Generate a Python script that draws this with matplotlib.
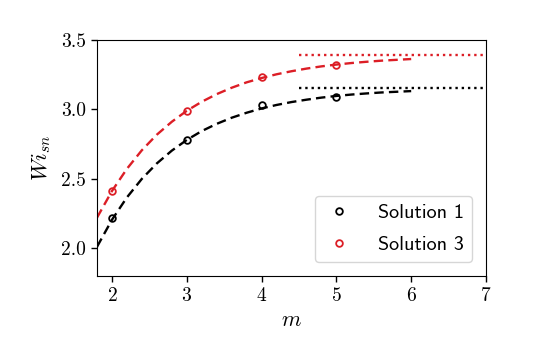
import numpy as np
import matplotlib
matplotlib.use("Agg")
import matplotlib.pyplot as plt

plt.rcParams['font.family'] = 'cmr10'
plt.rcParams['mathtext.fontset'] = 'cm'
plt.rcParams['axes.formatter.use_mathtext'] = True

m_fit = [1.8, 2.0, 2.2, 2.4, 2.6, 2.8, 3.0, 3.2, 3.4, 3.6, 3.8,
         4.0, 4.2, 4.4, 4.6, 4.8, 5.0, 5.2, 5.4, 5.6, 5.8, 6.0]
fit1 = [2.010, 2.205, 2.366, 2.500, 2.611, 2.703, 2.780, 2.844, 2.896, 2.940, 2.976,
        3.007, 3.032, 3.053, 3.070, 3.085, 3.097, 3.107, 3.115, 3.122, 3.127, 3.132]
fit3 = [2.220, 2.412, 2.572, 2.706, 2.818, 2.911, 2.990, 3.055, 3.110, 3.156, 3.195,
        3.226, 3.253, 3.275, 3.294, 3.310, 3.323, 3.334, 3.343, 3.351, 3.357, 3.363]

# computed solutions
m_pts = [2, 3, 4, 5]
sol1 = [2.22, 2.78, 3.03, 3.09]
sol3 = [2.41, 2.99, 3.23, 3.32]

# asymptotes
m_asym = [4.5, 7.0]
asym1 = 3.155
asym3 = 3.39

red = '#dc1e26'

fig = plt.figure(figsize=(5.4, 3.37), dpi=100)
ax = fig.add_axes([0.1796, 0.181, 0.7204, 0.7003])

ax.plot(m_fit, fit1, '--', color='k', lw=1.7, dashes=(4, 2.2))
ax.plot(m_fit, fit3, '--', color=red, lw=1.7, dashes=(4, 2.2))
ax.plot(m_asym, [asym1, asym1], ':', color='k', lw=1.7)
ax.plot(m_asym, [asym3, asym3], ':', color=red, lw=1.7)
ax.plot(m_pts, sol1, 'o', mfc='none', mec='k', ms=4.8, mew=1.3, label='Solution 1')
ax.plot(m_pts, sol3, 'o', mfc='none', mec=red, ms=4.8, mew=1.3, label='Solution 3')

ax.set_xlim(1.8, 7)
ax.set_ylim(1.8, 3.5)
ax.set_xticks([2, 3, 4, 5, 6, 7])
ax.set_yticks([2.0, 2.5, 3.0, 3.5])
ax.set_yticklabels(['2.0', '2.5', '3.0', '3.5'])
ax.tick_params(labelsize=14, length=4.5, width=1)
ax.set_xlabel('$m$', fontsize=16, labelpad=4)
ax.set_ylabel('$Wi_{sn}$', fontsize=16, labelpad=6)

leg = ax.legend(loc='lower right', prop={'family': 'cmss10', 'size': 14.5},
                handlelength=1.5, borderpad=0.4, labelspacing=0.7,
                handletextpad=1.2, borderaxespad=0.7, fancybox=True)
leg.get_frame().set_edgecolor('#cccccc')

fig.savefig('out.png', dpi=100)
